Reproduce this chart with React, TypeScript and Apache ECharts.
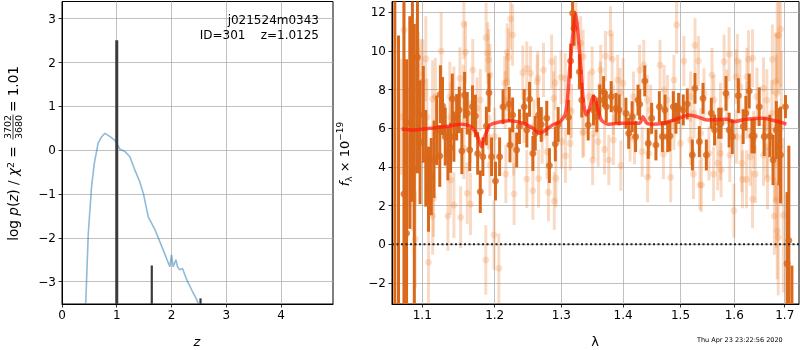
import React, { useEffect, useRef } from 'react';
import * as echarts from 'echarts';

// ---------- Left panel: log p(z) ----------
const pzZ = [0.433, 0.48, 0.54, 0.59, 0.66, 0.72, 0.785, 0.877, 0.95, 0.986, 1.06, 1.15, 1.24, 1.33, 1.42, 1.485, 1.575, 1.7, 1.85, 1.97, 2.0, 2.03, 2.08, 2.11, 2.15, 2.2, 2.28, 2.37, 2.45, 2.49];
const pzLog = [-3.51, -1.9, -0.83, -0.3, 0.16, 0.3, 0.385, 0.31, 0.24, 0.19, 0.02, -0.03, -0.15, -0.45, -0.72, -0.98, -1.52, -1.82, -2.28, -2.66, -2.39, -2.66, -2.5, -2.66, -2.73, -2.7, -2.96, -3.19, -3.38, -3.51];
const peakZ = [1.0, 1.64, 2.53];
const peakTop = [2.51, -2.63, -3.38];
const leftXTicks = [0, 1, 2, 3, 4];
const leftYTicks = [-3, -2, -1, 0, 1, 2, 3];

// ---------- Right panel: spectrum ----------
const darkLam = [1.0644, 1.0691, 1.0761, 1.0795, 1.0837, 1.0871, 1.0896, 1.0937, 1.0971, 1.1014, 1.1047, 1.1083, 1.112, 1.1157, 1.1193, 1.1234, 1.1243, 1.1271, 1.1308, 1.1344, 1.1381, 1.1404, 1.1426, 1.1464, 1.15, 1.1536, 1.1574, 1.1611, 1.1646, 1.1684, 1.1725, 1.1757, 1.1794, 1.1831, 1.1881, 1.1918, 1.1955, 1.2011, 1.2071, 1.2121, 1.2211, 1.2222, 1.2261, 1.2321, 1.2362, 1.2433, 1.2472, 1.2513, 1.2563, 1.2599, 1.2649, 1.269, 1.2774, 1.2815, 1.2906, 1.295, 1.3113, 1.3145, 1.3177, 1.32, 1.3285, 1.3323, 1.3426, 1.3511, 1.3565, 1.3613, 1.3677, 1.3721, 1.3802, 1.3882, 1.3935, 1.4048, 1.4095, 1.4153, 1.4212, 1.4254, 1.4282, 1.437, 1.443, 1.4489, 1.4564, 1.4624, 1.4677, 1.4723, 1.4771, 1.4811, 1.4871, 1.4917, 1.4965, 1.505, 1.5123, 1.5215, 1.5263, 1.5344, 1.5411, 1.5473, 1.5565, 1.5626, 1.5705, 1.5749, 1.5842, 1.5902, 1.5963, 1.6079, 1.6172, 1.6225, 1.629, 1.6343, 1.6389, 1.6487, 1.6586, 1.6698, 1.6763, 1.6829, 1.6882, 1.6915, 1.7015, 1.7048, 1.7084, 1.7147];
const darkFlux = [-6, -5, 2.6, 0.57, 6.3, 13.5, 3.9, 9.67, 5.28, 6.72, 4.45, 2.85, 3.5, 4.4, 5.9, 4.57, 7.76, 7.15, 5.57, 4.7, 5.0, 7.53, 5.57, 6.57, 6.95, 4.83, 7.72, 6.78, 4.88, 7.12, 6.64, 4.7, 2.72, 4.53, 6.12, 7.84, 4.53, 3.27, 4.53, 7.12, 7.24, 5.14, 6.69, 4.88, 6.09, 7.12, 5.91, 7.5, 4.7, 5.74, 6.69, 6.2, 6.52, 4.07, 5.19, 6.2, 6.57, 9.48, 11.95, 11.17, 8.93, 7.46, 6.17, 6.95, 6.6, 7.46, 7.9, 7.12, 7.64, 7.03, 6.95, 6.78, 5.74, 6.6, 5.57, 7.46, 7.24, 8.45, 5.22, 6.52, 5.14, 7.12, 5.57, 6.95, 5.57, 5.6, 7.12, 6.52, 7.03, 6.95, 7.26, 4.62, 8.07, 5.31, 7.55, 4.62, 6.78, 5.91, 6.26, 6.26, 7.81, 5.91, 5.57, 7.69, 6.09, 6.78, 7.93, 5.6, 5.6, 7.12, 5.57, 5.6, 4.36, 5.91, 5.05, 4.62, 7.12, -1, 0.2, -4];
const darkErr = [19, 15.8, 10, 9, 5.5, 11.3, 7.5, 6, 3.2, 2.5, 2.5, 2.2, 2, 2, 1.8, 1.6, 1.5, 1.5, 1.5, 1.4, 1.3, 1.3, 1.3, 1.2, 1.2, 1.2, 1.2, 1.1, 1.1, 1.1, 1.1, 1.1, 1.1, 1.0, 1.0, 1.0, 1.0, 1.0, 1.0, 0.9, 0.9, 0.9, 0.9, 0.9, 0.9, 0.9, 0.9, 0.9, 0.9, 0.9, 0.9, 0.9, 0.9, 0.9, 0.9, 0.9, 0.9, 0.9, 0.9, 0.9, 0.9, 0.9, 0.8, 0.8, 0.8, 0.8, 0.8, 0.8, 0.8, 0.8, 0.8, 0.8, 0.8, 0.8, 0.8, 0.8, 0.8, 0.8, 0.8, 0.8, 0.8, 0.8, 0.8, 0.8, 0.8, 0.8, 0.8, 0.8, 0.8, 0.8, 0.8, 0.8, 0.8, 0.8, 0.8, 0.8, 0.8, 0.8, 0.8, 0.8, 0.9, 0.9, 0.9, 0.9, 0.9, 0.9, 0.9, 0.9, 0.9, 1.0, 1.0, 1.1, 1.3, 1.5, 2, 2.5, 0.6, 3.7, 4.9, 2.9];

const lightLam = [1.0761, 1.0929, 1.1047, 1.1006, 1.1138, 1.1253, 1.1564, 1.1587, 1.1509, 1.1688, 1.1877, 1.19, 1.1931, 1.1175, 1.0904, 1.1151, 1.1138, 1.1344, 1.1519, 1.1426, 1.1656, 1.1611, 1.1381, 1.1872, 1.0908, 1.1083, 1.1931, 1.2231, 1.2261, 1.2181, 1.2201, 1.2849, 1.2724, 1.2412, 1.2472, 1.2638, 1.306, 1.2146, 1.206, 1.199, 1.2282, 1.2563, 1.28, 1.289, 1.2472, 1.2649, 1.2161, 1.2916, 1.3065, 1.316, 1.3231, 1.3305, 1.3489, 1.3337, 1.3498, 1.379, 1.3708, 1.3818, 1.3629, 1.4282, 1.4635, 1.4929, 1.5061, 1.5263, 1.5326, 1.4882, 1.391, 1.3692, 1.3763, 1.3963, 1.4418, 1.4824, 1.5234, 1.5355, 1.4695, 1.4194, 1.3587, 1.5902, 1.6059, 1.5806, 1.6276, 1.6355, 1.675, 1.6848, 1.6915, 1.6816, 1.5381, 1.5608, 1.5749, 1.5994, 1.6158, 1.6237, 1.6355, 1.6409, 1.6652, 1.6789, 1.6829, 1.6848, 1.6868, 1.6146, 1.5915, 1.5684, 1.0947, 1.0976, 1.1371, 1.1913, 1.2528, 1.2905, 1.3113, 1.1426, 1.1556, 1.1748, 1.1794, 1.2151, 1.2176, 1.2629, 1.288, 1.2995, 1.0908, 1.1061, 1.1381, 1.1656, 1.1908, 1.2, 1.2427, 1.2578, 1.2704, 1.3006, 1.314, 1.1564, 1.2276, 1.2779, 1.3345, 1.4, 1.4353, 1.5578, 1.6034, 1.6245, 1.6572, 1.4325, 1.4441, 1.5184, 1.5521, 1.5737, 1.631, 1.6572, 1.6803, 1.3355, 1.3516, 1.3839, 1.4118, 1.4882, 1.5, 1.5368, 1.6047, 1.6375, 1.6639, 1.3436, 1.3624, 1.3947, 1.4176, 1.4413, 1.4706, 1.4766, 1.5184, 1.5429, 1.5613, 1.5858, 1.6112, 1.6442, 1.6639, 1.6836, 1.3839, 1.4471, 1.5245, 1.5737, 1.6245, 1.6741, 1.072, 1.083, 1.087, 1.095, 1.688, 1.693, 1.697];
const lightFlux = [11.09, 9.22, 9.6, 8.41, 7.52, 10.0, 11.38, 9.93, 8.59, 9.02, 10.69, 9.88, 8.76, 7.64, 4.53, 2.38, 1.46, 1.46, 1.4, 2.03, 2.08, 2.64, 3.33, -0.81, 0.26, -0.93, 4.1, 11.66, 10.83, 9.93, 9.67, 9.45, 9.02, 8.88, 9.1, 8.59, 8.59, 8.33, -1.24, 0.48, 2.6, 2.77, 2.69, 2.24, 3.38, 3.4, 3.64, 3.41, 4.58, 6.9, 11.43, 10.4, 8.93, 5.77, 4.36, 10.92, 9.74, 9.57, 9.02, 9.02, 9.28, 11.35, 9.48, 10.3, 9.48, 8.5, 8.5, 4.91, 4.36, 4.07, 3.47, 3.47, 3.64, 3.07, 4.67, 5.43, 5.31, 9.83, 9.48, 9.45, 9.57, 9.62, 9.57, 10.83, 11.12, 8.41, 3.07, 3.64, 3.84, 1.74, 3.36, 3.36, 2.33, 3.64, 3.41, 1.46, 2.29, 0.69, 0.36, 4.19, 4.62, 4.19, 8.81, 8.41, 7.64, 9.53, 8.85, 8.36, 6.95, 7.5, 7.69, 7.03, 7.46, 7.46, 8.41, 8.41, 7.55, 8.64, 7.03, 6.57, 6.57, 5.83, 6.52, 5.57, 6.64, 6.09, 5.57, 5.31, 5.22, 4.97, 5.05, 4.79, 9.7, 8.33, 9.28, 8.76, 8.67, 8.67, 8.07, 4.79, 4.7, 5.4, 4.7, 4.7, 4.53, 4.62, 4.19, 5.83, 5.74, 5.4, 5.57, 6.17, 5.22, 5.74, 5.57, 5.4, 5.05, 7.64, 8.15, 7.81, 7.64, 7.46, 7.98, 7.46, 7.64, 7.81, 7.46, 7.64, 8.15, 7.64, 7.46, 7.81, 6.95, 6.95, 6.78, 6.95, 6.95, 6.78, 6.6, 5.1, 3.2, 7.9, 10.8, 6.0, 1.5];
const lightErr = [3, 2.5, 2.2, 2.2, 2, 2, 1.8, 1.6, 1.6, 1.6, 1.8, 1.6, 1.6, 2, 2.5, 2, 2, 1.8, 1.6, 1.7, 1.6, 1.6, 1.8, 1.8, 2.5, 2.2, 1.6, 1.6, 1.6, 1.5, 1.5, 1.4, 1.4, 1.4, 1.4, 1.4, 1.3, 1.4, 1.8, 1.8, 1.6, 1.5, 1.5, 1.5, 1.5, 1.5, 1.5, 1.5, 1.4, 1.4, 1.4, 1.4, 1.3, 1.3, 1.3, 1.4, 1.3, 1.3, 1.3, 1.3, 1.3, 1.5, 1.3, 1.4, 1.3, 1.3, 1.3, 1.3, 1.3, 1.3, 1.3, 1.3, 1.3, 1.3, 1.3, 1.3, 1.3, 1.4, 1.4, 1.4, 1.5, 1.5, 1.8, 2.5, 3, 2.5, 1.4, 1.4, 1.4, 1.4, 1.5, 1.5, 1.5, 1.5, 1.6, 2, 2.5, 2.5, 3, 1.5, 1.4, 1.4, 2.2, 2.2, 1.8, 1.6, 1.4, 1.4, 1.3, 1.7, 1.6, 1.6, 1.6, 1.5, 1.5, 1.4, 1.4, 1.4, 2.2, 2, 1.8, 1.6, 1.6, 1.5, 1.4, 1.4, 1.4, 1.4, 1.4, 1.6, 1.5, 1.4, 1.4, 1.3, 1.3, 1.4, 1.4, 1.5, 1.6, 1.3, 1.3, 1.3, 1.4, 1.4, 1.5, 1.6, 2, 1.3, 1.3, 1.3, 1.3, 1.3, 1.3, 1.3, 1.4, 1.5, 1.6, 1.3, 1.3, 1.3, 1.3, 1.3, 1.3, 1.3, 1.3, 1.3, 1.3, 1.4, 1.4, 1.5, 1.6, 2, 1.3, 1.3, 1.3, 1.4, 1.5, 1.7, 3, 3, 2.5, 2.3, 3, 4, 4];

const modelLam = [1.0732, 1.0882, 1.1101, 1.1326, 1.153, 1.1646, 1.174, 1.181, 1.1857, 1.193, 1.2024, 1.2216, 1.2415, 1.2563, 1.2662, 1.2762, 1.2862, 1.298, 1.3057, 1.3094, 1.3135, 1.3188, 1.3226, 1.3258, 1.3306, 1.3347, 1.339, 1.3443, 1.3505, 1.3533, 1.3586, 1.364, 1.3749, 1.3944, 1.4282, 1.4338, 1.4396, 1.4482, 1.4687, 1.4923, 1.515, 1.5301, 1.5485, 1.5862, 1.598, 1.6239, 1.6567, 1.6804, 1.7035];
const modelFlux = [5.96, 5.91, 6.0, 6.09, 6.21, 6.12, 5.74, 5.05, 5.57, 6.17, 6.29, 6.39, 6.26, 6.0, 5.74, 5.91, 6.17, 6.34, 6.69, 7.46, 9.19, 11.09, 11.95, 11.09, 9.19, 7.46, 6.69, 6.95, 7.64, 7.6, 6.95, 6.43, 6.21, 6.26, 6.26, 6.6, 6.29, 6.21, 6.26, 6.47, 6.69, 6.6, 6.43, 6.47, 6.34, 6.47, 6.52, 6.39, 6.22];

const rightXTickLabels = [1.1, 1.2, 1.3, 1.4, 1.5, 1.6, 1.7];
const rightYTicks = [-2, 0, 2, 4, 6, 8, 10, 12];

// axis limits
const LX_MIN = 0, LX_MAX = 4.95, LY_MIN = -3.509, LY_MAX = 3.392;
const RX_MIN = 0.02562, RX_MAX = 0.23789, RY_MIN = -3.088, RY_MAX = 12.56;

const FONT = 'DejaVu Sans';
const DARK = '#d9681a';
const LIGHT = 'rgba(235,125,45,0.28)';
const minus = (v: number) => (v < 0 ? '\u2212' + Math.abs(v) : String(v));

function errRender(color: string, w: number) {
  return (params: any, api: any) => {
    const x = api.value(0), y = api.value(1), e = api.value(2);
    const a = api.coord([x, y + e]);
    const b = api.coord([x, y - e]);
    const cs = params.coordSys;
    const top = Math.max(a[1], cs.y);
    const bot = Math.min(b[1], cs.y + cs.height);
    if (bot <= top) return { type: 'group', children: [] };
    return { type: 'rect', shape: { x: a[0] - w / 2, y: top, width: w, height: bot - top }, style: { fill: color } };
  };
}

export default function App() {
  const ref = useRef<HTMLDivElement>(null);
  useEffect(() => {
    const chart = echarts.init(ref.current!, null, { renderer: 'svg' });
    const darkData = darkLam.map((l, i) => [Math.log10(l), darkFlux[i], darkErr[i]]);
    const lightData = lightLam.map((l, i) => [Math.log10(l), lightFlux[i], lightErr[i]]);
    const modelData = modelLam.map((l, i) => [Math.log10(l), modelFlux[i]]);
    const rTicks = rightXTickLabels.map((v) => Math.log10(v));
    const axisLbl = { fontFamily: FONT, fontSize: 12, color: '#000' };
    const split = { show: true, lineStyle: { color: '#b0b0b0', width: 0.8 } };
    const tick = { show: true, length: 3.5, lineStyle: { color: '#000', width: 0.8 } };

    const option: any = {
      animation: false,
      grid: [
        { left: 62, top: 1.5, width: 271, height: 302.5, show: true, borderColor: '#000', borderWidth: 1, backgroundColor: 'transparent' },
        { left: 392, top: 1.5, width: 407, height: 302.5, show: true, borderColor: '#000', borderWidth: 1, backgroundColor: 'transparent' },
      ],
      xAxis: [
        {
          gridIndex: 0, type: 'value', min: LX_MIN, max: LX_MAX,
          axisLine: { show: true, onZero: false, lineStyle: { color: '#000' } },
          axisTick: { ...tick, customValues: leftXTicks },
          axisLabel: { ...axisLbl, margin: 5, customValues: leftXTicks, formatter: (v: number) => String(v) },
          splitLine: split,
        },
        {
          gridIndex: 1, type: 'value', min: RX_MIN, max: RX_MAX,
          axisLine: { show: true, onZero: false, lineStyle: { color: '#000' } },
          axisTick: { ...tick, customValues: rTicks },
          axisLabel: { ...axisLbl, margin: 5, customValues: rTicks, formatter: (v: number) => Math.pow(10, v).toFixed(1) },
          splitLine: split,
        },
      ],
      yAxis: [
        {
          gridIndex: 0, type: 'value', min: LY_MIN, max: LY_MAX,
          axisLine: { show: true, onZero: false, lineStyle: { color: '#000' } },
          axisTick: { ...tick, customValues: leftYTicks },
          axisLabel: { ...axisLbl, margin: 6, customValues: leftYTicks, formatter: (v: number) => minus(v) },
          splitLine: split,
        },
        {
          gridIndex: 1, type: 'value', min: RY_MIN, max: RY_MAX,
          axisLine: { show: true, onZero: false, lineStyle: { color: '#000' } },
          axisTick: { ...tick, customValues: rightYTicks },
          axisLabel: { ...axisLbl, margin: 6, customValues: rightYTicks, formatter: (v: number) => minus(v) },
          splitLine: split,
        },
      ],
      series: [
        {
          type: 'line', xAxisIndex: 0, yAxisIndex: 0, showSymbol: false, symbol: 'none',
          data: pzZ.map((z, i) => [z, pzLog[i]]),
          lineStyle: { color: '#1f77b4', opacity: 0.5, width: 1.6 }, clip: true, z: 3,
        },
        {
          type: 'custom', xAxisIndex: 0, yAxisIndex: 0,
          data: peakZ.map((z, i) => [z, peakTop[i]]),
          encode: { x: 0, y: 1 },
          renderItem: (params: any, api: any) => {
            const w = params.dataIndex === 0 ? 3 : 2.2;
            const a = api.coord([api.value(0), api.value(1)]);
            const cs = params.coordSys;
            return { type: 'rect', shape: { x: a[0] - w / 2, y: a[1], width: w, height: cs.y + cs.height - a[1] }, style: { fill: '#3b3b3b' } };
          },
          z: 4,
        },
        {
          type: 'custom', xAxisIndex: 1, yAxisIndex: 1, data: lightData, encode: { x: 0, y: 1 },
          renderItem: errRender(LIGHT, 3), z: 2,
        },
        {
          type: 'scatter', xAxisIndex: 1, yAxisIndex: 1, data: lightData.map((d) => [d[0], d[1]]),
          symbolSize: 7, itemStyle: { color: LIGHT }, z: 2,
        },
        {
          type: 'custom', xAxisIndex: 1, yAxisIndex: 1, data: darkData, encode: { x: 0, y: 1 },
          renderItem: errRender(DARK, 3), z: 3,
        },
        {
          type: 'scatter', xAxisIndex: 1, yAxisIndex: 1, data: darkData.map((d) => [d[0], d[1]]),
          symbolSize: 7, itemStyle: { color: DARK }, z: 3,
        },
        {
          type: 'line', xAxisIndex: 1, yAxisIndex: 1, showSymbol: false, symbol: 'none', smooth: 0.2,
          data: modelData, lineStyle: { color: '#ff1a0a', opacity: 0.72, width: 3.5 }, z: 4,
        },
        {
          type: 'line', xAxisIndex: 1, yAxisIndex: 1, showSymbol: false, symbol: 'none',
          data: [[RX_MIN, 0], [RX_MAX, 0]],
          lineStyle: { color: '#222', width: 2, type: [2, 2.5] }, z: 5,
        },
      ],
      graphic: [
        { type: 'text', x: 319, y: 20, style: { text: 'j021524m0343', font: `12px "${FONT}"`, fill: '#000', align: 'right', verticalAlign: 'middle' }, z: 10 },
        { type: 'text', x: 319, y: 35, style: { text: 'ID=301    z=1.0125', font: `12px "${FONT}"`, fill: '#000', align: 'right', verticalAlign: 'middle' }, z: 10 },
        { type: 'text', x: 197, y: 341, style: { text: 'z', font: `italic 13px "${FONT}"`, fill: '#000', align: 'center', verticalAlign: 'middle' } },
        { type: 'text', x: 595, y: 341, style: { text: 'λ', font: `13px "${FONT}"`, fill: '#000', align: 'center', verticalAlign: 'middle' } },
        { type: 'text', x: 697, y: 340, style: { text: 'Thu Apr 23 23:22:56 2020', font: `6.5px "${FONT}"`, fill: '#000', align: 'left', verticalAlign: 'middle' } },
        {
          type: 'group', x: 13, y: 127, rotation: Math.PI / 2,
          children: [
            {
              type: 'text', x: -15, y: 0,
              style: {
                text: '{n|log }{i|p}{n|(}{i|z}{n|) / }{i|χ}{s|2}{n| = }',
                align: 'right', verticalAlign: 'middle', fill: '#000',
                rich: {
                  n: { fontFamily: FONT, fontSize: 13.6, lineHeight: 16 },
                  i: { fontFamily: FONT, fontSize: 13.6, fontStyle: 'italic', lineHeight: 16 },
                  s: { fontFamily: FONT, fontSize: 9.5, lineHeight: 16, verticalAlign: 'top' },
                },
              },
            },
            { type: 'text', x: 0, y: -5.5, style: { text: '3702', font: `9.5px "${FONT}"`, fill: '#000', align: 'center', verticalAlign: 'middle' } },
            { type: 'line', shape: { x1: -12.5, y1: 0, x2: 12.5, y2: 0 }, style: { stroke: '#000', lineWidth: 0.8 } },
            { type: 'text', x: 0, y: 5.5, style: { text: '3680', font: `9.5px "${FONT}"`, fill: '#000', align: 'center', verticalAlign: 'middle' } },
            { type: 'text', x: 15, y: 0, style: { text: '= 1.01', font: `13.6px "${FONT}"`, fill: '#000', align: 'left', verticalAlign: 'middle' } },
          ],
        },
        {
          type: 'text', x: 344, y: 154, rotation: Math.PI / 2,
          style: {
            text: '{i|f}{b|λ}{n| × 10}{s|−19}',
            align: 'center', verticalAlign: 'middle', fill: '#000',
            rich: {
              n: { fontFamily: FONT, fontSize: 13, lineHeight: 18 },
              i: { fontFamily: FONT, fontSize: 13, fontStyle: 'italic', lineHeight: 18 },
              b: { fontFamily: FONT, fontSize: 9, lineHeight: 18, verticalAlign: 'bottom' },
              s: { fontFamily: FONT, fontSize: 9, lineHeight: 18, verticalAlign: 'top' },
            },
          },
        },
      ],
    };
    chart.setOption(option);
    return () => chart.dispose();
  }, []);
  return <div ref={ref} style={{ position: 'fixed', left: 0, top: 0, width: 800, height: 350 }} />;
}
